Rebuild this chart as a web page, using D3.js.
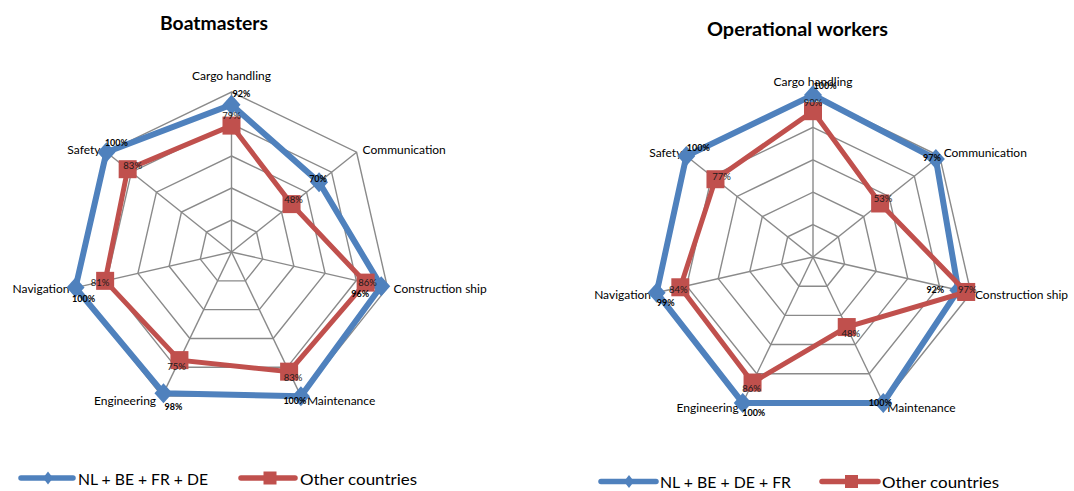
<!DOCTYPE html>
<html><head><meta charset="utf-8">
<script src="https://cdn.jsdelivr.net/npm/d3@7"></script>
<style>
html,body{margin:0;padding:0;background:#fff;}
svg{display:block;font-family:Lato,"Open Sans",sans-serif;}
</style></head>
<body><svg id="c" width="1074" height="491"></svg>
<script>
// ---------- DATA ----------
const categories = ["Cargo handling","Communication","Construction ship","Maintenance","Engineering","Navigation","Safety"];
const ringTicks = [0.2,0.4,0.6,0.8,1.0];

const boatTitle = "Boatmasters";
const boatSeriesNames = ["NL + BE + FR + DE","Other countries"];
const boatMain  = [0.92,0.70,0.96,1.00,0.98,1.00,1.00];
const boatOther = [0.79,0.48,0.86,0.83,0.75,0.81,0.83];

const opTitle = "Operational workers";
const opSeriesNames = ["NL + BE + DE + FR","Other countries"];
const opMain  = [1.00,0.97,0.92,1.00,1.00,0.99,1.00];
const opOther = [0.90,0.53,0.97,0.48,0.86,0.84,0.77];

// ---------- LAYOUT (label nudges, px) ----------
const boatMainNudge  = [[10,-11],[-1,-4],[-21,7],[-6,4],[10,13],[8,11],[10,-10]];
const boatOtherNudge = [[0,-10],[2,-5],[2,0],[4,6],[-3,6],[-5,2],[5,-4]];
const opMainNudge    = [[12,-10],[-4,-2],[-23,-1],[-3,0],[11,10],[9,10],[12,-9]];
const opOtherNudge   = [[0,-9],[3,-5],[1,-2],[4,6],[-1,6],[-2,2],[6,-3]];

const BLUE = "#4f81bd", RED = "#c0504d", GRID = "#8a8a8a";
const svg = d3.select("#c");
svg.append("rect").attr("width",1074).attr("height",491).attr("fill","#fff");

const fmt = d3.format(".0%");

function diamondPath(w,h){return `M0,${-h}L${w},0L0,${h}L${-w},0Z`;}

function radar(opt){
  const g = svg.append("g").attr("transform",`translate(${opt.cx},${opt.cy})`);
  const angle = d3.scaleLinear().domain([0,categories.length]).range([0,2*Math.PI]);
  const rad = d3.scaleLinear().domain([0,1]).range([0,opt.r]);
  const pt = (v,i)=>[rad(v)*Math.sin(angle(i)), -rad(v)*Math.cos(angle(i))];

  // grid rings
  ringTicks.forEach(t=>{
    g.append("path")
      .attr("d", d3.lineRadial().angle((d,i)=>angle(i)).radius(()=>rad(t)).curve(d3.curveLinearClosed)(categories))
      .attr("fill","none").attr("stroke",GRID).attr("stroke-width",1.4);
  });
  // spokes
  categories.forEach((c,i)=>{
    const p = pt(1,i);
    g.append("line").attr("x1",0).attr("y1",0).attr("x2",p[0]).attr("y2",p[1])
      .attr("stroke",GRID).attr("stroke-width",1.4);
  });
  // axis labels
  categories.forEach((c,i)=>{
    const a = angle(i), p = pt(1,i), s = Math.sin(a), co = Math.cos(a);
    const t = g.append("text").text(c).attr("font-size",12).attr("fill","#000");
    if (Math.abs(s) < 0.1){
      t.attr("x",p[0]).attr("y",p[1]-opt.topGap).attr("text-anchor","middle").attr("dominant-baseline","central");
    } else {
      t.attr("x",p[0] + (s>0?opt.sidePad:-opt.sidePad)).attr("y",p[1] - 5*co)
       .attr("text-anchor", s>0?"start":"end").attr("dominant-baseline","central");
    }
  });
  const line = d3.lineRadial().angle((d,i)=>angle(i)).radius(d=>rad(d)).curve(d3.curveLinearClosed);
  // main series
  g.append("path").attr("d",line(opt.main)).attr("fill","none").attr("stroke",BLUE).attr("stroke-width",6).attr("stroke-linejoin","miter");
  opt.main.forEach((v,i)=>{
    const p = pt(v,i);
    g.append("path").attr("d",diamondPath(9,10)).attr("transform",`translate(${p[0]},${p[1]})`).attr("fill",BLUE);
  });
  // other series
  g.append("path").attr("d",line(opt.other)).attr("fill","none").attr("stroke",RED).attr("stroke-width",5).attr("stroke-linejoin","miter");
  opt.other.forEach((v,i)=>{
    const p = pt(v,i);
    g.append("rect").attr("x",p[0]-9).attr("y",p[1]-9).attr("width",18).attr("height",18).attr("fill",RED);
  });
  // labels
  opt.main.forEach((v,i)=>{
    const p = pt(v,i), n = opt.mainNudge[i];
    g.append("text").text(fmt(v)).attr("x",p[0]+n[0]).attr("y",p[1]+n[1])
      .attr("text-anchor","middle").attr("dominant-baseline","central")
      .attr("font-size",9).attr("font-weight","bold").attr("fill","#000");
  });
  opt.other.forEach((v,i)=>{
    const p = pt(v,i), n = opt.otherNudge[i];
    g.append("text").text(fmt(v)).attr("x",p[0]+n[0]).attr("y",p[1]+n[1])
      .attr("text-anchor","middle").attr("dominant-baseline","central")
      .attr("font-size",9.5).attr("fill","#1a1a1a");
  });
  // title
  svg.append("text").text(opt.title).attr("x",opt.tx).attr("y",opt.ty)
    .attr("text-anchor","middle").attr("dominant-baseline","central")
    .attr("font-size",19.5).attr("font-weight","bold").attr("fill","#000")
    .attr("textLength",opt.tw).attr("lengthAdjust","spacingAndGlyphs");
  // legend
  const lg = svg.append("g");
  opt.legend.forEach((L,k)=>{
    const col = k===0?BLUE:RED;
    lg.append("line").attr("x1",L.x).attr("x2",L.x+L.w).attr("y1",opt.ly).attr("y2",opt.ly)
      .attr("stroke",col).attr("stroke-width",5.5).attr("stroke-linecap","round");
    if(k===0){
      lg.append("path").attr("d",diamondPath(5,6.5)).attr("transform",`translate(${L.m},${opt.ly})`).attr("fill",col);
    } else {
      lg.append("rect").attr("x",L.m-6.5).attr("y",opt.ly-6.5).attr("width",13).attr("height",13).attr("fill",col);
    }
    lg.append("text").text(opt.names[k]).attr("x",L.tx).attr("y",opt.ly)
      .attr("dominant-baseline","central").attr("font-size",16).attr("fill","#000")
      .attr("textLength",L.tl).attr("lengthAdjust","spacingAndGlyphs");
  });
}

radar({cx:231.5, cy:252, r:160, main:boatMain, other:boatOther,
  mainNudge:boatMainNudge, otherNudge:boatOtherNudge, topGap:17, sidePad:6,
  title:boatTitle, tx:214, ty:22, tw:108, names:boatSeriesNames, ly:478,
  legend:[{x:21,w:52,m:48,tx:78,tl:130},{x:241,w:54,m:270,tx:300,tl:117}]});

radar({cx:813, cy:257, r:162, main:opMain, other:opOther,
  mainNudge:opMainNudge, otherNudge:opOtherNudge, topGap:14, sidePad:4,
  title:opTitle, tx:797.5, ty:28, tw:181, names:opSeriesNames, ly:481.5,
  legend:[{x:601,w:55,m:629,tx:660,tl:131},{x:822,w:56,m:851.5,tx:882,tl:117}]});
</script></body></html>
